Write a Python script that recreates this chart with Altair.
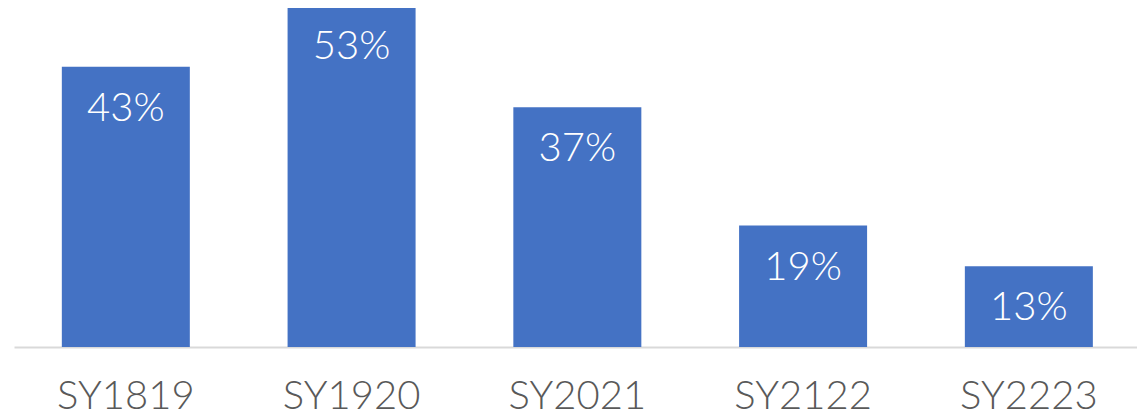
import altair as alt
import pandas as pd

categories = ["SY1819", "SY1920", "SY2021", "SY2122", "SY2223"]
values = [0.434, 0.529, 0.371, 0.188, 0.125]
labels = ["43%", "53%", "37%", "19%", "13%"]

df = pd.DataFrame({"cat": categories, "val": values, "lab": labels})

x = alt.X("cat:N", sort=categories, title=None,
          scale=alt.Scale(paddingInner=0.433, paddingOuter=0.2037, align=0.52),
          axis=alt.Axis(labelAngle=0, ticks=False, grid=False,
                        domainColor="#d9d9d9", domainWidth=2,
                        labelFont="Lato", labelFontSize=40, labelFontWeight=300,
                        labelColor="#595959",
                        labelBaseline="alphabetic", labelPadding=61))
y = alt.Y("val:Q", title=None, scale=alt.Scale(domain=[0, 0.5248], nice=False),
          axis=None)

bars = alt.Chart(df).mark_bar(color="#4472C4").encode(x=x, y=y)
text = alt.Chart(df).mark_text(color="white", font="Lato", fontSize=40, fontWeight=300,
                               baseline="alphabetic", dy=54).encode(
    x=alt.X("cat:N", sort=categories), y="val:Q", text="lab:N")

chart = (bars + text).properties(
    width=1123, height=339,
    autosize=alt.AutoSizeParams(type="none"),
    padding={"left": 6, "top": 0, "right": 0, "bottom": 70},
).configure(background="white").configure_view(strokeWidth=0, stroke=None)

chart.save("out.html", embed_options={"renderer": "svg", "actions": False})
